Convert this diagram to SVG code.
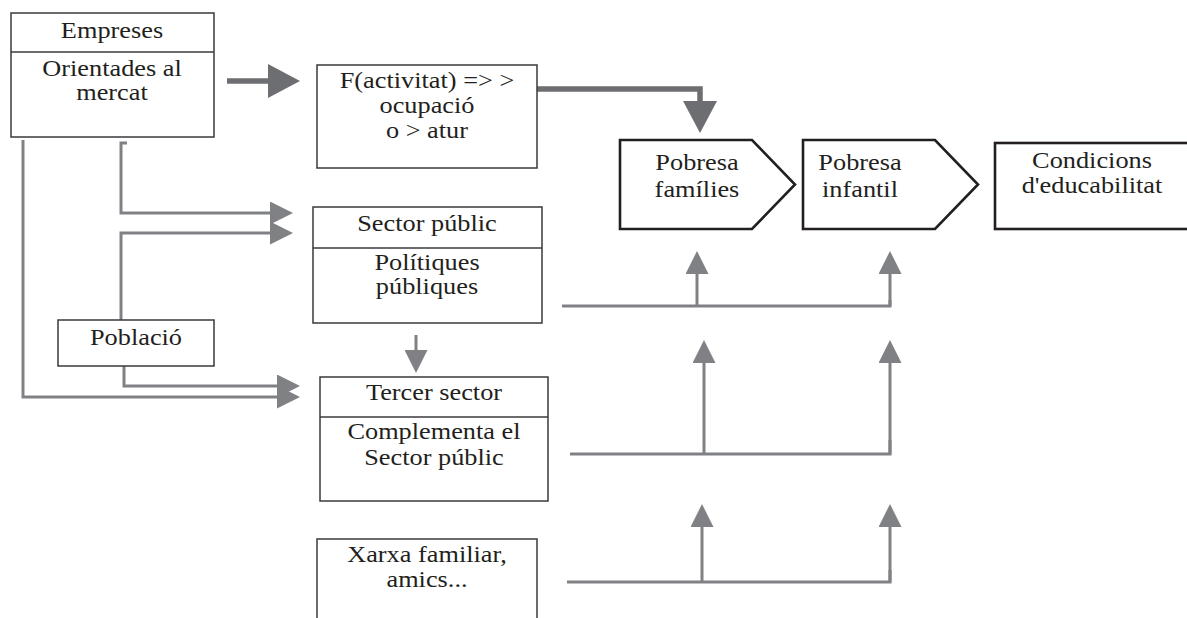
<svg xmlns="http://www.w3.org/2000/svg" width="1187" height="618" viewBox="0 0 1187 618">
<style>
.box{fill:#fff;stroke:#3a3a3c;stroke-width:1.5}
.div{stroke:#3a3a3c;stroke-width:1.5;fill:none}
.pent{fill:#fff;stroke:#231f20;stroke-width:2.6;stroke-linejoin:miter}
.t{font-family:"Liberation Serif","Times New Roman",serif;font-size:23.5px;fill:#231f20;text-anchor:middle}
.c{fill:none;stroke:#808185;stroke-width:3}
.ca{fill:none;stroke:#808185;stroke-width:3;marker-end:url(#ah)}
.ct{fill:none;stroke:#6d6e71;stroke-width:5.5;marker-end:url(#aht)}
</style>
<defs>
<marker id="ah" viewBox="0 0 23 23" refX="17" refY="11.5" markerWidth="23" markerHeight="23" markerUnits="userSpaceOnUse" orient="auto">
<path d="M0,0 L23,11.5 L0,23 Z" fill="#808185"/>
</marker>
<marker id="aht" viewBox="0 0 32 34" refX="12" refY="17" markerWidth="32" markerHeight="34" markerUnits="userSpaceOnUse" orient="auto">
<path d="M0,0 L32,17 L0,34 Z" fill="#6d6e71"/>
</marker>
</defs>

<g id="connectors">
<path class="ct" d="M227,81 H280"/>
<path class="ct" d="M533,89 H700 V113"/>
<path class="ca" d="M127,143 H121 V213 H287"/>
<path class="ca" d="M121,320 V233 H287"/>
<path class="ca" d="M124,364 V386 H294"/>
<path class="ca" d="M23,140 V397 H294"/>
<path class="ca" d="M416,335 V367"/>
<path class="c" d="M562,306 H890 V300"/>
<path class="ca" d="M697,306 V257"/>
<path class="ca" d="M890,306 V257"/>
<path class="c" d="M570,454 H890 V440"/>
<path class="ca" d="M704,454 V346"/>
<path class="ca" d="M890,454 V346"/>
<path class="c" d="M567,582 H890 V570"/>
<path class="ca" d="M702,582 V510"/>
<path class="ca" d="M890,582 V510"/>
</g>

<g id="empreses">
<rect class="box" x="11" y="13" width="203" height="124"/>
<line class="div" x1="11" y1="52" x2="214" y2="52"/>
<text class="t" transform="translate(112,38) scale(1.12,1)">Empreses</text>
<text class="t" transform="translate(112,76) scale(1.12,1)">Orientades al</text>
<text class="t" transform="translate(112,100) scale(1.12,1)">mercat</text>
</g>

<g id="activitat">
<rect class="box" x="317" y="65" width="220" height="103"/>
<text class="t" transform="translate(427,88) scale(1.12,1)">F(activitat) =&gt; &gt;</text>
<text class="t" transform="translate(427,113) scale(1.12,1)">ocupació</text>
<text class="t" transform="translate(427,138) scale(1.12,1)">o &gt; atur</text>
</g>

<g id="sector-public">
<rect class="box" x="313" y="207" width="229" height="116"/>
<line class="div" x1="313" y1="248" x2="542" y2="248"/>
<text class="t" transform="translate(427,231) scale(1.12,1)">Sector públic</text>
<text class="t" transform="translate(427,270) scale(1.12,1)">Polítiques</text>
<text class="t" transform="translate(427,294) scale(1.12,1)">públiques</text>
</g>

<g id="poblacio">
<rect class="box" x="58" y="320" width="156" height="46"/>
<text class="t" transform="translate(136,345) scale(1.12,1)">Població</text>
</g>

<g id="tercer-sector">
<rect class="box" x="320" y="377" width="228" height="124"/>
<line class="div" x1="320" y1="417" x2="548" y2="417"/>
<text class="t" transform="translate(434,400) scale(1.12,1)">Tercer sector</text>
<text class="t" transform="translate(434,439) scale(1.12,1)">Complementa el</text>
<text class="t" transform="translate(434,465) scale(1.12,1)">Sector públic</text>
</g>

<g id="xarxa">
<rect class="box" x="317" y="539" width="220" height="100"/>
<text class="t" transform="translate(427,562) scale(1.12,1)">Xarxa familiar,</text>
<text class="t" transform="translate(427,587) scale(1.12,1)">amics...</text>
</g>

<g id="pobresa-families">
<polygon class="pent" points="620,140 752,140 795,184.5 752,229 620,229"/>
<text class="t" transform="translate(697,170) scale(1.12,1)">Pobresa</text>
<text class="t" transform="translate(697,197) scale(1.12,1)">famílies</text>
</g>

<g id="pobresa-infantil">
<polygon class="pent" points="803,140 935,140 978,184.5 935,229 803,229"/>
<text class="t" transform="translate(860,170) scale(1.12,1)">Pobresa</text>
<text class="t" transform="translate(860,197) scale(1.12,1)">infantil</text>
</g>

<g id="condicions">
<rect class="pent" x="995" y="143" width="200" height="86"/>
<text class="t" transform="translate(1092,168) scale(1.12,1)">Condicions</text>
<text class="t" transform="translate(1092,193) scale(1.12,1)">d'educabilitat</text>
</g>
</svg>
